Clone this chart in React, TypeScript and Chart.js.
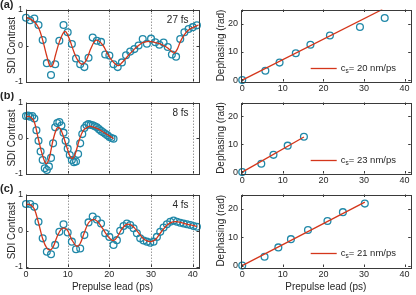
import React, { useEffect, useRef } from 'react';
import { Chart, registerables } from 'chart.js';

Chart.register(...registerables);

// ---------- data ----------
const panelTags = ['(a)', '(b)', '(c)'];
const pulseDurations = ['27 fs', '8 fs', '4 fs'];
const soundSpeeds = ['20', '23', '21'];
const delayTicks = [0, 10, 20, 30, 40];

const aDelay = [0, 1, 2, 3, 4, 5, 6, 7, 8, 9, 10, 11, 12, 13, 14, 15, 16, 17, 18, 19, 20, 21, 22, 23, 24, 25, 26, 27, 28, 29, 30, 31, 32, 33, 34, 35, 36, 37, 38, 39, 40, 41];
const aContrast = [0.77, 0.7, 0.75, 0.57, 0.15, -0.49, -0.82, -0.52, 0.13, 0.57, 0.37, 0.04, -0.36, -0.52, -0.6, -0.34, 0.22, 0.13, 0.1, -0.25, -0.28, -0.52, -0.6, -0.47, -0.27, -0.17, -0.1, 0.0, 0.18, 0.05, 0.19, 0.09, 0.02, 0.08, -0.04, -0.25, -0.31, 0.18, 0.37, 0.46, 0.51, 0.56];
const aFitDelay = [0, 1, 2, 3, 4, 5, 5.8, 6.4, 7, 8, 9, 9.6, 10.5, 11.5, 12.5, 13.5, 14.5, 15.5, 16.5, 17.3, 18.5, 19.5, 20.5, 21.5, 22.2, 23, 24, 25, 26, 27, 28, 29, 30, 31, 32, 33, 34, 35, 35.6, 36.3, 37, 38, 39, 40, 41.4];
const aFitContrast = [0.78, 0.74, 0.66, 0.5, 0.15, -0.3, -0.58, -0.55, -0.3, 0.1, 0.36, 0.38, 0.15, -0.18, -0.43, -0.52, -0.4, -0.1, 0.12, 0.14, 0.0, -0.22, -0.4, -0.52, -0.56, -0.48, -0.35, -0.22, -0.1, 0.0, 0.08, 0.11, 0.11, 0.08, 0.05, 0.0, -0.07, -0.17, -0.21, -0.1, 0.1, 0.3, 0.43, 0.5, 0.57];

const bDelay = [0, 0.5, 1, 1.5, 2, 2.5, 3, 3.5, 4, 4.5, 5, 5.5, 6, 6.5, 7, 7.5, 8, 8.5, 9, 9.5, 10, 10.5, 11, 11.5, 12, 12.5, 13, 13.5, 14, 14.5, 15, 15.5, 16, 16.5, 17, 17.5, 18, 18.5, 19, 19.5, 20, 20.5, 21];
const bContrast = [0.62, 0.63, 0.6, 0.62, 0.55, 0.22, -0.08, -0.38, -0.62, -0.85, -0.9, -0.8, -0.56, -0.15, 0.3, 0.42, 0.45, 0.35, 0.15, -0.08, -0.3, -0.48, -0.62, -0.68, -0.66, -0.45, -0.15, 0.11, 0.28, 0.36, 0.39, 0.37, 0.36, 0.33, 0.3, 0.25, 0.2, 0.16, 0.12, 0.08, 0.03, 0.0, -0.02];
const bFitDelay = [0, 1, 2, 3, 4, 4.8, 5.5, 6.5, 7.3, 7.8, 8.5, 9.5, 10.5, 11.1, 11.8, 12.8, 13.8, 15, 15.5, 17, 18.5, 20, 21];
const bFitContrast = [0.6, 0.6, 0.45, -0.05, -0.5, -0.72, -0.6, -0.05, 0.25, 0.3, 0.2, -0.15, -0.5, -0.58, -0.45, -0.05, 0.22, 0.32, 0.33, 0.27, 0.17, 0.06, -0.02];

const cDelay = [0, 1, 2, 3, 4, 5, 6, 7, 8, 9, 10, 11, 12, 13, 14, 15, 16, 17, 18, 19, 20, 21, 21.8, 22.6, 23.4, 24.2, 25, 25.8, 26.6, 27.4, 28.2, 29, 29.8, 30.6, 31.4, 32.2, 33, 33.8, 34.6, 35.4, 36.2, 37, 37.8, 38.6, 39.4, 40.2, 41];
const cContrast = [0.74, 0.74, 0.66, 0.25, -0.21, -0.58, -0.65, -0.39, -0.03, 0.18, -0.05, -0.3, -0.51, -0.49, -0.12, 0.23, 0.39, 0.31, 0.2, -0.07, -0.17, -0.39, -0.26, 0.0, 0.13, 0.2, 0.16, 0.07, -0.07, -0.21, -0.27, -0.3, -0.33, -0.3, -0.17, -0.03, 0.09, 0.18, 0.25, 0.28, 0.25, 0.22, 0.2, 0.18, 0.16, 0.13, 0.11];
const cFitDelay = [0, 1, 2, 3, 4, 5, 5.8, 6.5, 7.5, 8.5, 9.2, 10, 11, 12.2, 13, 14, 15, 16, 17, 18, 19, 20, 21, 22, 23, 24, 25, 26, 27, 28, 29, 30, 31, 32, 33, 34, 35, 36, 37, 38, 39, 40, 41];
const cFitContrast = [0.73, 0.72, 0.6, 0.22, -0.22, -0.48, -0.53, -0.45, -0.15, 0.05, 0.07, 0.0, -0.25, -0.43, -0.35, -0.05, 0.22, 0.31, 0.27, 0.13, -0.05, -0.2, -0.27, -0.15, 0.05, 0.17, 0.17, 0.08, -0.06, -0.2, -0.28, -0.3, -0.25, -0.1, 0.05, 0.17, 0.24, 0.25, 0.23, 0.2, 0.17, 0.15, 0.12];

const aPhaseDelay = [0, 5.7, 9.2, 13.2, 16.8, 21.6, 29.0, 35.1];
const aPhase = [0, 3.3, 6.2, 9.5, 12.5, 15.8, 18.8, 22.0];
const aLineDelay = [0, 34.5];
const aLinePhase = [0, 25];

const bPhaseDelay = [0, 4.7, 7.7, 11.2, 15.2];
const bPhase = [0, 3.0, 6.2, 9.5, 12.7];
const bLineDelay = [0, 15.2];
const bLinePhase = [0, 12.6];

const cPhaseDelay = [0, 5.5, 8.9, 12.0, 16.2, 21.0, 24.8, 30.2];
const cPhase = [0, 3.1, 6.4, 9.3, 12.5, 15.7, 18.8, 21.8];
const cLineDelay = [0, 30.2];
const cLinePhase = [0, 22.3];

const contrastSets = [
  { x: aDelay, y: aContrast, fx: aFitDelay, fy: aFitContrast },
  { x: bDelay, y: bContrast, fx: bFitDelay, fy: bFitContrast },
  { x: cDelay, y: cContrast, fx: cFitDelay, fy: cFitContrast },
];
const phaseSets = [
  { x: aPhaseDelay, y: aPhase, lx: aLineDelay, ly: aLinePhase },
  { x: bPhaseDelay, y: bPhase, lx: bLineDelay, ly: bLinePhase },
  { x: cPhaseDelay, y: cPhase, lx: cLineDelay, ly: cLinePhase },
];

// ---------- styling / layout ----------
const FONT = "'Liberation Sans', Arial, Helvetica, sans-serif";
const AXIS = '#3a3a3a';
const TEXT = '#262626';
const TEAL = '#2088a8';
const RED = '#d4361b';

const ROWS = [
  { top: 0, height: 92, areaTop: 9.5, areaBottom: 81.5, tagY: 8 },
  { top: 92, height: 92, areaTop: 10.5, areaBottom: 81.5, tagY: 6.5 },
  { top: 184, height: 111, areaTop: 10.5, areaBottom: 83, tagY: 8 },
];
const LEFT = { x: 0, width: 205, areaLeft: 26, areaRight: 199 };
const RIGHT = { x: 205, width: 211, areaLeft: 36, areaRight: 209 };

const toPts = (xs: number[], ys: number[]) => xs.map((x, i) => ({ x, y: ys[i] }));

const framePlugin = {
  id: 'frame',
  beforeDatasetsDraw(chart: any, _a: any, opts: any) {
    const { ctx, chartArea: a } = chart;
    const xs = chart.scales.x;
    if (opts.dottedX) {
      ctx.save();
      ctx.strokeStyle = '#9a9a9a';
      ctx.lineWidth = 1;
      ctx.setLineDash([1.5, 1.5]);
      xs.ticks.forEach((t: any) => {
        const px = Math.round(xs.getPixelForValue(t.value)) + 0.5;
        if (px > a.left + 2 && px < a.right - 1) {
          ctx.beginPath();
          ctx.moveTo(px, a.top);
          ctx.lineTo(px, a.bottom);
          ctx.stroke();
        }
      });
      ctx.restore();
    }
  },
  afterDatasetsDraw(chart: any, _a: any, opts: any) {
    const { ctx, chartArea: a } = chart;
    const xs = chart.scales.x;
    const ys = chart.scales.y;
    ctx.save();
    ctx.strokeStyle = AXIS;
    ctx.lineWidth = 1;
    ctx.setLineDash([]);
    ctx.strokeRect(Math.round(a.left) + 0.5, Math.round(a.top) + 0.5, Math.round(a.right - a.left), Math.round(a.bottom - a.top));
    const tl = 2.5;
    ctx.beginPath();
    xs.ticks.forEach((t: any) => {
      const px = Math.round(xs.getPixelForValue(t.value)) + 0.5;
      ctx.moveTo(px, a.bottom); ctx.lineTo(px, a.bottom - tl);
      ctx.moveTo(px, a.top); ctx.lineTo(px, a.top + tl);
    });
    ys.ticks.forEach((t: any) => {
      const py = Math.round(ys.getPixelForValue(t.value)) + 0.5;
      ctx.moveTo(a.left, py); ctx.lineTo(a.left + tl, py);
      ctx.moveTo(a.right, py); ctx.lineTo(a.right - tl, py);
    });
    ctx.stroke();

    ctx.fillStyle = TEXT;
    if (opts.note) {
      ctx.font = `10px ${FONT}`;
      ctx.textAlign = 'right';
      ctx.textBaseline = 'alphabetic';
      ctx.fillText(opts.note, a.right - 10.5, a.top + 13);
    }
    if (opts.tag) {
      ctx.font = `bold 11px ${FONT}`;
      ctx.textAlign = 'left';
      ctx.textBaseline = 'alphabetic';
      ctx.fillText(opts.tag, 0, opts.tagY);
    }
    if (opts.speed) {
      const ly = Math.round(a.bottom - 14) + 0.5;
      ctx.strokeStyle = RED;
      ctx.lineWidth = 1.3;
      ctx.beginPath();
      ctx.moveTo(a.right - 100, ly);
      ctx.lineTo(a.right - 74, ly);
      ctx.stroke();
      ctx.textAlign = 'left';
      ctx.textBaseline = 'middle';
      let tx = a.right - 70;
      ctx.font = `9.5px ${FONT}`;
      ctx.fillText('c', tx, ly);
      tx += ctx.measureText('c').width;
      ctx.font = `6.5px ${FONT}`;
      ctx.fillText('s', tx, ly + 2.5);
      tx += ctx.measureText('s').width;
      ctx.font = `9.5px ${FONT}`;
      ctx.fillText(`= ${opts.speed} nm/ps`, tx, ly);
    }
    ctx.restore();
  },
};

function baseScaleX(row: any, side: any, showLabels: boolean, showTitle: boolean, min: number) {
  return {
    type: 'linear',
    min,
    max: 41.5,
    grid: { display: false, drawTicks: false },
    border: { display: false },
    afterBuildTicks: (s: any) => { s.ticks = delayTicks.map((v) => ({ value: v })); },
    ticks: { display: showLabels, padding: 2, color: TEXT, font: { family: FONT, size: 9 }, maxRotation: 0, autoSkip: false },
    title: { display: showTitle, text: 'Prepulse lead (ps)', color: TEXT, font: { family: FONT, size: 10 }, padding: { top: 0, bottom: 2 } },
    afterFit: (s: any) => { s.height = row.height - row.areaBottom; },
  };
}

function leftConfig(i: number) {
  const row = ROWS[i];
  const d = contrastSets[i];
  return {
    type: 'scatter',
    data: {
      datasets: [
        { data: toPts(d.fx, d.fy), showLine: true, borderColor: RED, borderWidth: 1.3, pointRadius: 0, tension: 0.35, fill: false },
        { data: toPts(d.x, d.y), borderColor: TEAL, backgroundColor: 'rgba(0,0,0,0)', pointRadius: 3.4, pointBorderWidth: 1.3, borderWidth: 1.3, clip: false },
      ],
    },
    options: {
      animation: false, responsive: false, maintainAspectRatio: false, events: [],
      layout: { padding: { top: row.areaTop, right: LEFT.width - LEFT.areaRight, bottom: 0, left: 0 } },
      plugins: {
        legend: { display: false }, tooltip: { enabled: false },
        frame: { dottedX: true, note: pulseDurations[i], tag: panelTags[i], tagY: row.tagY },
      },
      scales: {
        x: baseScaleX(row, LEFT, i === 2, i === 2, 0),
        y: {
          min: -1, max: 1,
          grid: { display: false, drawTicks: false }, border: { display: false },
          ticks: { stepSize: 1, padding: 3, color: TEXT, font: { family: FONT, size: 9 } },
          title: { display: true, text: 'SDI Contrast', color: TEXT, font: { family: FONT, size: 10 }, padding: { top: 6, bottom: 0 } },
          afterFit: (s: any) => { s.width = LEFT.areaLeft; },
        },
      },
    },
  };
}

function rightConfig(i: number) {
  const row = ROWS[i];
  const d = phaseSets[i];
  return {
    type: 'scatter',
    data: {
      datasets: [
        { data: toPts(d.lx, d.ly), showLine: true, borderColor: RED, borderWidth: 1.3, pointRadius: 0, fill: false },
        { data: toPts(d.x, d.y), borderColor: TEAL, backgroundColor: 'rgba(0,0,0,0)', pointRadius: 3.4, pointBorderWidth: 1.3, borderWidth: 1.3, clip: false },
      ],
    },
    options: {
      animation: false, responsive: false, maintainAspectRatio: false, events: [],
      layout: { padding: { top: row.areaTop, right: RIGHT.width - RIGHT.areaRight, bottom: 0, left: 0 } },
      plugins: {
        legend: { display: false }, tooltip: { enabled: false },
        frame: { dottedX: false, speed: soundSpeeds[i] },
      },
      scales: {
        x: baseScaleX(row, RIGHT, true, i === 2, -0.3),
        y: {
          min: -0.5, max: 25,
          grid: { display: false, drawTicks: false }, border: { display: false },
          ticks: { stepSize: 10, includeBounds: false, padding: 3, color: TEXT, font: { family: FONT, size: 9 } },
          title: { display: true, text: 'Dephasing (rad)', color: TEXT, font: { family: FONT, size: 10 }, padding: { top: 10.5, bottom: 0 } },
          afterFit: (s: any) => { s.width = RIGHT.areaLeft; },
        },
      },
    },
  };
}

Chart.register(framePlugin as any);

function ChartCanvas({ left, top, width, height, make }: any) {
  const ref = useRef<HTMLCanvasElement>(null);
  useEffect(() => {
    const chart = new Chart(ref.current as HTMLCanvasElement, make() as any);
    return () => chart.destroy();
  }, []);
  return (
    <canvas
      ref={ref}
      width={width}
      height={height}
      style={{ position: 'absolute', left, top, width, height }}
    />
  );
}

export default function App() {
  return (
    <div style={{ position: 'absolute', left: 0, top: 0, width: 416, height: 295, background: '#fff', overflow: 'hidden' }}>
      {ROWS.map((r, i) => (
        <React.Fragment key={i}>
          <ChartCanvas left={LEFT.x} top={r.top} width={LEFT.width} height={r.height} make={() => leftConfig(i)} />
          <ChartCanvas left={RIGHT.x} top={r.top} width={RIGHT.width} height={r.height} make={() => rightConfig(i)} />
        </React.Fragment>
      ))}
    </div>
  );
}
